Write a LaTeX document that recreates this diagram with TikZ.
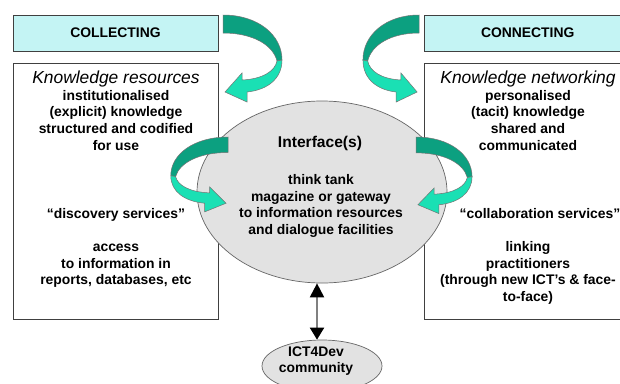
\documentclass[tikz,border=0pt]{standalone}
\usepackage{fontspec}
\setmainfont{Liberation Sans}
\usetikzlibrary{shapes.geometric,arrows.meta}
\definecolor{barcyan}{RGB}{196,244,244}
\definecolor{ifgrey}{RGB}{226,226,226}
\definecolor{ribbonback}{RGB}{12,160,128}
\definecolor{ribbonfront}{RGB}{26,224,180}
\tikzset{
    twist/.pic={
        \filldraw[fill=ribbonback,draw=black!55,line width=0.5pt]
            (0,0) .. controls (35,0) and (59,20) .. (59,45)
            -- (54,46) .. controls (50,30) and (30,18) .. (0,18) -- cycle;
        \filldraw[fill=ribbonfront,draw=black!55,line width=0.5pt]
            (54,46) .. controls (52,56) and (40,64) .. (19,65)
            -- (19,58) -- (2,77) -- (24,87) -- (24,77)
            .. controls (44,75) and (59,64) .. (59,45) -- cycle;
    }
}
\begin{document}
\begin{tikzpicture}[x=1pt,y=-1pt,
    bar/.style={rectangle,draw=black!75,line width=0.8pt,fill=barcyan,
        minimum height=36pt,inner sep=0,
        font=\fontsize{13.9}{16.7}\selectfont\bfseries},
    box/.style={rectangle,draw=black!75,line width=0.8pt,fill=white,
        minimum height=256pt,inner sep=0},
    blob/.style={ellipse,draw=black!60,line width=0.7pt,fill=ifgrey,inner sep=0},
    txt/.style={anchor=base,inner sep=0,font=\fontsize{13.9}{16.7}\selectfont\bfseries},
    head/.style={anchor=base,inner sep=0,font=\fontsize{17.4}{20}\selectfont\itshape},
    dbl/.style={draw=black!50,line width=2pt,
        {Triangle[length=14pt,width=14pt,color=black]}-{Triangle[length=12pt,width=14pt,color=black]}}]
    \useasboundingbox (0,0) rectangle (620,383);
    \clip (0,0) rectangle (620,383);
    \fill[white] (0,0) rectangle (620,383);

    \node[bar,minimum width=205pt] (collect) at (115.5,33) {COLLECTING};
    \node[bar,minimum width=200pt,text width=190pt,align=left] (connect) at (524,33) {\hspace*{52pt}CONNECTING};

    \node[box,minimum width=205pt] (resbox) at (115.5,191) {};
    \node[box,minimum width=200pt] (netbox) at (524,191) {};

    \node[head] (reshead) at (116,83) {Knowledge resources};
    \foreach \yy/\lbl [count=\i] in {100/institutionalised, 116.7/{(explicit) knowledge},
        133.3/structured and codified, 150/for use, 218/{“discovery services”},
        251.5/access, 268.2/to information in, 284.9/{reports, databases, etc}}
        \node[txt] (res\i) at (116,\yy) {\lbl};

    \node[head] (nethead) at (528,83) {Knowledge networking};
    \foreach \yy/\lbl [count=\i] in {100/personalised, 116.7/{(tacit) knowledge},
        133.3/shared and, 150/communicated,
        251.5/linking, 268.2/practitioners, 284.9/{(through new ICT’s \& face-},
        301.6/{to-face)}}
        \node[txt] (net\i) at (528,\yy) {\lbl};
    \node[txt] (collab) at (540,218) {“collaboration services”};

    \node[blob,minimum width=250pt,minimum height=182pt] (iface) at (322,192) {};
    \node[txt,font=\fontsize{15.6}{18}\selectfont\bfseries] (ifhead) at (320,147) {Interface(s)};
    \foreach \yy/\lbl [count=\i] in {184.5/think tank, 201/magazine or gateway,
        217.5/to information resources, 234/and dialogue facilities}
        \node[txt] (if\i) at (321,\yy) {\lbl};

    \pic (collarrow) at (223,15) {twist};
    \pic[xscale=-0.95] (connarrow) at (419,15) {twist};
    \pic[xscale=-0.97,yscale=0.86] (discarrow) at (228,137) {twist};
    \pic[xscale=0.95,yscale=0.88] (collabarrow) at (416,137) {twist};

    \node[blob,minimum width=120pt,minimum height=52pt] (ict4dev) at (322,366) {};
    \node[txt] (ictname) at (316,356) {ICT4Dev};
    \node[txt] (ictcomm) at (316,372.5) {community};

    \draw[dbl] ([xshift=-5pt]iface.south) -- ([xshift=-5pt]ict4dev.north);
\end{tikzpicture}
\end{document}
